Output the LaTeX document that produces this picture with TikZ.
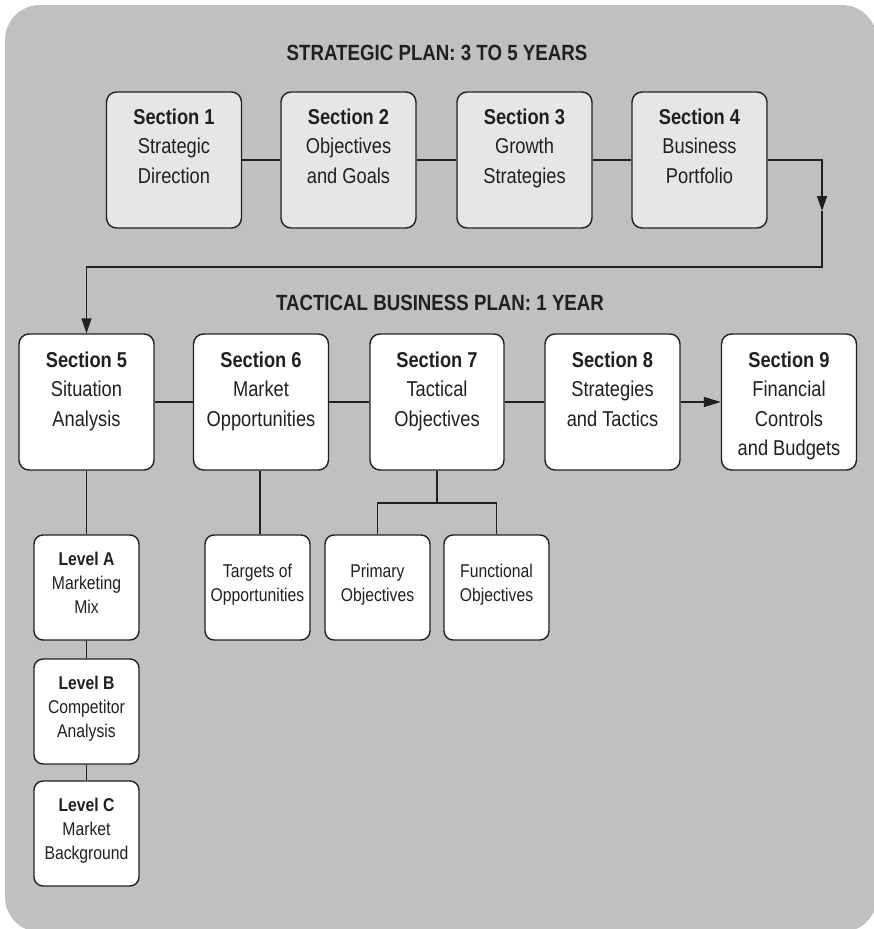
\documentclass[tikz,border=0pt]{standalone}
\usepackage{fontspec}
\setmainfont{Liberation Sans}[FakeStretch=0.85]
\usetikzlibrary{arrows.meta}
\definecolor{bggray}{HTML}{C0C0C0}
\definecolor{boxgray}{HTML}{E6E6E6}
\definecolor{ink}{HTML}{231F20}
\begin{document}
\begin{tikzpicture}[x=1pt,y=-1pt,
  conn/.style={draw=ink, line width=1.4pt},
  tip/.style={-{Triangle[length=15pt,width=10pt]}},
  bigbox/.style={draw=ink, line width=1.4pt, rounded corners=10pt, minimum width=135pt, minimum height=136pt, inner sep=0pt},
  topbox/.style={bigbox, fill=boxgray},
  lowbox/.style={bigbox, fill=white},
  smallbox/.style={draw=ink, line width=1.4pt, rounded corners=9pt, fill=white, minimum width=105pt, minimum height=105pt, inner sep=0pt},
  bigtxt/.style={text=ink, align=center, inner sep=0pt, anchor=north, font=\fontsize{21.5}{29.5}\selectfont},
  smalltxt/.style={text=ink, align=center, inner sep=0pt, anchor=north, font=\fontsize{18.5}{24}\selectfont},
  title/.style={text=ink, inner sep=0pt, font=\bfseries\fontsize{22}{26}\selectfont}
]
\useasboundingbox (0,0) rectangle (874,929);
\fill[bggray, rounded corners=35pt] (5,5) rectangle (877,932);

\node[title] (t1) at (437,53) {STRATEGIC PLAN: 3 TO 5 YEARS};
\node[title] (t2) at (440,303) {TACTICAL BUSINESS PLAN: 1 YEAR};

% top row
\node[topbox] (s1) at (174,160) {};
\node[topbox] (s2) at (348.5,160) {};
\node[topbox] (s3) at (524.5,160) {};
\node[topbox] (s4) at (699.5,160) {};
\node[bigtxt] (s1t) at ([yshift=-17pt]s1.north) {{\bfseries Section 1}\\Strategic\\Direction};
\node[bigtxt] (s2t) at ([yshift=-17pt]s2.north) {{\bfseries Section 2}\\Objectives\\and Goals};
\node[bigtxt] (s3t) at ([yshift=-17pt]s3.north) {{\bfseries Section 3}\\Growth\\Strategies};
\node[bigtxt] (s4t) at ([yshift=-17pt]s4.north) {{\bfseries Section 4}\\Business\\Portfolio};

% bottom row
\node[lowbox] (s5) at (86.5,402) {};
\node[lowbox] (s6) at (261,402) {};
\node[lowbox, minimum width=134pt] (s7) at (437,402) {};
\node[lowbox] (s8) at (612.5,402) {};
\node[lowbox] (s9) at (789,402) {};
\node[bigtxt] (s5t) at ([yshift=-18pt]s5.north) {{\bfseries Section 5}\\Situation\\Analysis};
\node[bigtxt] (s6t) at ([yshift=-18pt]s6.north) {{\bfseries Section 6}\\Market\\Opportunities};
\node[bigtxt] (s7t) at ([yshift=-18pt]s7.north) {{\bfseries Section 7}\\Tactical\\Objectives};
\node[bigtxt] (s8t) at ([yshift=-18pt]s8.north) {{\bfseries Section 8}\\Strategies\\and Tactics};
\node[bigtxt] (s9t) at ([yshift=-18pt]s9.north) {{\bfseries Section 9}\\Financial\\Controls\\and Budgets};

% small boxes
\node[smallbox] (la) at (86.5,587.5) {};
\node[smallbox] (lb) at (86.5,711.5) {};
\node[smallbox] (lc) at (86.5,833.5) {};
\node[smallbox] (tg) at (257.5,587.5) {};
\node[smallbox] (pr) at (377.5,587.5) {};
\node[smallbox] (fn) at (496.5,587.5) {};
\node[smalltxt] (lat) at ([yshift=-18pt]la.north) {{\bfseries Level A}\\Marketing\\Mix};
\node[smalltxt] (lbt) at ([yshift=-18pt]lb.north) {{\bfseries Level B}\\Competitor\\Analysis};
\node[smalltxt] (lct) at ([yshift=-18pt]lc.north) {{\bfseries Level C}\\Market\\Background};
\node[smalltxt] (tgt) at ([yshift=-30pt]tg.north) {Targets of\\Opportunities};
\node[smalltxt] (prt) at ([yshift=-30pt]pr.north) {Primary\\Objectives};
\node[smalltxt] (fnt) at ([yshift=-30pt]fn.north) {Functional\\Objectives};

% connectors top row
\draw[conn] (s1.east) -- (s2.west);
\draw[conn] (s2.east) -- (s3.west);
\draw[conn] (s3.east) -- (s4.west);
\coordinate (c1) at (822,211);
\coordinate (c2) at (822,267);
\draw[conn, tip] (s4.east) -| (c1);
\draw[conn, tip] (c1) -- (c2) -| (s5.north);

% connectors bottom row
\draw[conn] (s5.east) -- (s6.west);
\draw[conn] (s6.east) -- (s7.west);
\draw[conn] (s7.east) -- (s8.west);
\draw[conn, -{Triangle[length=17pt,width=10pt]}] (s8.east) -- (s9.west);

% sub connectors
\draw[conn] (s5.south) -- (la.north);
\draw[conn] (la.south) -- (lb.north);
\draw[conn] (lb.south) -- (lc.north);
\draw[conn] (s6.south -| 260,0) -- (tg.north -| 260,0);
\coordinate (j) at (437,503);
\draw[conn] (s7.south) -- (j);
\draw[conn] (pr.north) |- (j) -| (fn.north);
\end{tikzpicture}
\end{document}
